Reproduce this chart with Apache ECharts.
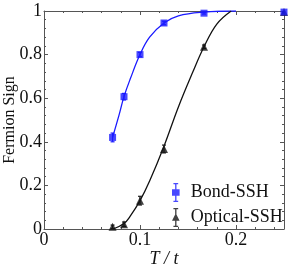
<!DOCTYPE html>
<html>
<head>
<meta charset="utf-8">
<script src="https://cdn.jsdelivr.net/npm/echarts@6/dist/echarts.min.js"></script>
<style>html,body{margin:0;padding:0;background:#fff;}#c{width:291px;height:271px;}</style>
</head>
<body>
<div id="c"></div>
<script>
// Data
const tempX = [1/14, 1/12, 0.1, 0.125, 1/6, 0.25];
const bondY = [0.42, 0.607, 0.80, 0.945, 0.99, 0.995];
const bondErr = [0.02, 0.015, 0.01, 0.008, 0.004, 0.004];
const opticalY = [0.01, 0.022, 0.13, 0.367, 0.836, 0.995];
const opticalErr = [0.008, 0.01, 0.02, 0.018, 0.008, 0.004];

// Fit curves
const bondFitX = [0.0714, 0.078, 0.0833, 0.09, 0.1, 0.11, 0.125, 0.14, 0.1667, 0.2];
const bondFitY = [0.42, 0.52, 0.607, 0.69, 0.80, 0.88, 0.945, 0.978, 0.995, 1.0];
const optFitX = [0.072, 0.0833, 0.09, 0.1, 0.11, 0.125, 0.14, 0.155, 0.1667, 0.18, 0.195];
const optFitY = [0.0, 0.025, 0.06, 0.13, 0.22, 0.38, 0.56, 0.72, 0.836, 0.94, 1.0];

const xTicks = ['0', '0.1', '0.2'];
const yTicks = ['0', '0.2', '0.4', '0.6', '0.8', '1'];

const FONT = 'Liberation Serif';
const AX = '#555';
const FS = 18;

const zip = (a, b) => a.map((v, i) => [v, b[i]]);

function errSeries(name, ys, errs, color) {
  return {
    type: 'custom',
    name: name + '-err',
    data: tempX.map((x, i) => [x, ys[i] - errs[i], ys[i] + errs[i]]),
    z: 3,
    clip: true,
    renderItem: function (params, api) {
      const x = api.value(0);
      const lo = api.coord([x, api.value(1)]);
      const hi = api.coord([x, api.value(2)]);
      const w = 2;
      const st = { stroke: color, lineWidth: 1.2 };
      return {
        type: 'group',
        children: [
          { type: 'line', shape: { x1: lo[0], y1: lo[1], x2: hi[0], y2: hi[1] }, style: st },
          { type: 'line', shape: { x1: lo[0] - w, y1: lo[1], x2: lo[0] + w, y2: lo[1] }, style: st },
          { type: 'line', shape: { x1: hi[0] - w, y1: hi[1], x2: hi[0] + w, y2: hi[1] }, style: st }
        ]
      };
    }
  };
}

const chart = echarts.init(document.getElementById('c'), null, { renderer: 'canvas' });

function axisX(show, pos) {
  return {
    type: 'value', min: 0, max: 0.25, interval: 0.1, position: pos,
    axisLine: { show: true, onZero: false, lineStyle: { color: AX, width: 1 } },
    axisTick: { show: true, inside: true, length: 4, lineStyle: { color: AX } },
    minorTick: { show: true, splitNumber: 5, length: 2, lineStyle: { color: AX } },
    splitLine: { show: false },
    axisLabel: {
      show: show, margin: 2, fontFamily: FONT, fontSize: FS, color: '#111',
      formatter: function (v) { const i = Math.round(v * 10); return xTicks[i] !== undefined ? xTicks[i] : ''; }
    },
    name: show ? 'T / t' : '', nameLocation: 'middle', nameGap: 21, nameMoveOverlap: false,
    nameTextStyle: { fontFamily: FONT, fontSize: FS, fontStyle: 'italic', color: '#111' }
  };
}
function axisY(show, pos) {
  return {
    type: 'value', min: 0, max: 1, interval: 0.2, position: pos,
    axisLine: { show: true, onZero: false, lineStyle: { color: AX, width: 1 } },
    axisTick: { show: true, inside: true, length: 4, lineStyle: { color: AX } },
    minorTick: { show: true, splitNumber: 5, length: 2, lineStyle: { color: AX } },
    splitLine: { show: false },
    axisLabel: {
      show: show, margin: 2, fontFamily: FONT, fontSize: FS, color: '#111',
      formatter: function (v) { return yTicks[Math.round(v * 5)]; }
    },
    name: show ? 'Fermion Sign' : '', nameLocation: 'middle', nameGap: 26, nameMoveOverlap: false,
    nameTextStyle: { fontFamily: FONT, fontSize: 16, color: '#111' }
  };
}

const legendIconBond = 'path://M4.3,0 H5.7 V20 H4.3 Z M2.5,0 H7.5 V1.2 H2.5 Z M2.5,18.8 H7.5 V20 H2.5 Z M1,6.5 H9 V13.5 H1 Z';
const legendIconOpt = 'path://M4.3,0 H5.7 V20 H4.3 Z M2.5,0 H7.5 V1.2 H2.5 Z M2.5,18.8 H7.5 V20 H2.5 Z M5,5.5 L9,13.5 H1 Z';

chart.setOption({
  animation: false,
  backgroundColor: '#fff',
  grid: { left: 44, right: 7, top: 11, bottom: 42, containLabel: false, outerBoundsMode: 'none' },
  xAxis: [axisX(true, 'bottom'), axisX(false, 'top')],
  yAxis: [axisY(true, 'left'), axisY(false, 'right')],
  legend: {
    orient: 'vertical', left: 167, top: 178, itemGap: 6,
    itemWidth: 8, itemHeight: 19,
    textStyle: { fontFamily: FONT, fontSize: FS, color: '#111', padding: [0, 0, 0, 6] },
    data: [
      { name: 'Bond-SSH', icon: legendIconBond, itemStyle: { color: '#1a1aff' } },
      { name: 'Optical-SSH', icon: legendIconOpt, itemStyle: { color: '#111' } }
    ]
  },
  series: [
    { type: 'line', name: 'bondfit', data: zip(bondFitX, bondFitY), smooth: 0.4, showSymbol: false,
      lineStyle: { color: '#1a1aff', width: 1.3 }, clip: true, z: 2, silent: true },
    { type: 'line', name: 'optfit', data: zip(optFitX, optFitY), smooth: 0.4, showSymbol: false,
      lineStyle: { color: '#111', width: 1.3 }, clip: true, z: 2, silent: true },
    errSeries('Bond-SSH', bondY, bondErr, '#1a1aff'),
    errSeries('Optical-SSH', opticalY, opticalErr, '#222'),
    { type: 'scatter', name: 'Optical-SSH', data: zip(tempX, opticalY), symbol: 'triangle', symbolSize: 8,
      itemStyle: { color: '#111' }, z: 4, clip: true },
    { type: 'scatter', name: 'Bond-SSH', data: zip(tempX, bondY), symbol: 'rect', symbolSize: 7,
      itemStyle: { color: '#1a1aff' }, z: 5, clip: true }
  ]
});
</script>
</body>
</html>
